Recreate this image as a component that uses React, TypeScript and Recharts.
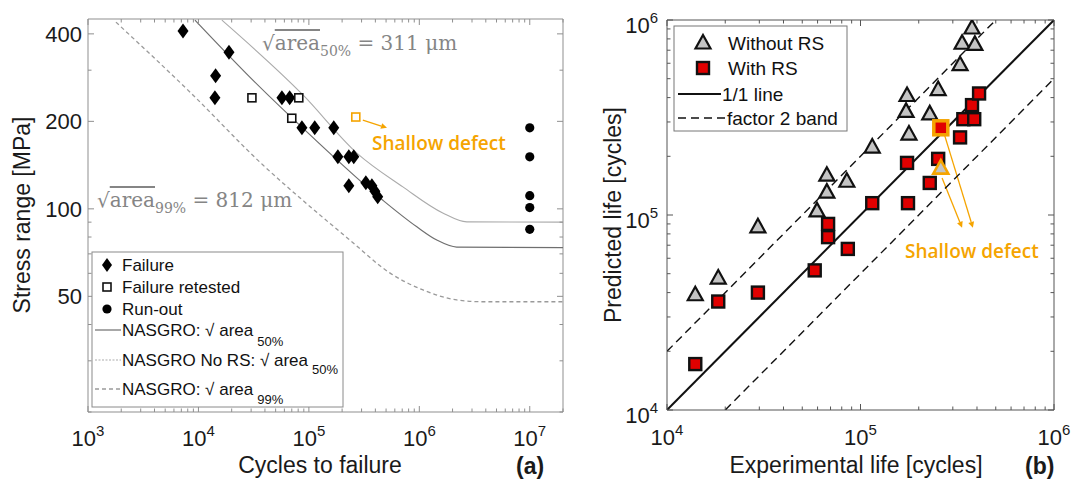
import React from "react";
import { ScatterChart, Scatter, XAxis, YAxis, ReferenceLine } from "recharts";

const ORANGE = "#f5a400";
const FRAME_A = "#8f8f8f";
const FRAME_B = "#555555";
const SANS = "'Liberation Sans', Arial, sans-serif";
const RED = "#e10000";
const GREY = "#c4c4c4";

// ---- panel (a): stress range vs cycles to failure
const failureCycles = [7250, 14100, 14300, 18900, 57000, 67000, 86500, 113000, 168000, 183000, 230000, 255000, 230000, 328000, 372000, 396000, 420000];
const failureStress = [409, 241, 287, 346, 241, 241, 190, 190, 190, 151, 151, 151, 120, 123, 120, 115, 110];
const retestCycles = [30500, 70000, 81000];
const retestStress = [241, 205, 241];
const shallowACycles = [266000];
const shallowAStress = [207];
const runoutCycles = [1e7, 1e7, 1e7, 1e7, 1e7];
const runoutStress = [190, 151, 111, 101, 85];

const nasgro50Cycles = [9300, 29200, 102000, 468000, 950000, 1440000, 2180000, 2e7];
const nasgro50Stress = [446, 284, 180, 107, 86.7, 78.1, 73.9, 73.5];
const noRsCycles = [16300, 88000, 272000, 710000, 1630000, 2690000, 2e7];
const noRsStress = [446, 247, 155.6, 119, 96.8, 90.2, 90];
const nasgro99Cycles = [1790, 8400, 38400, 88000, 235000, 540000, 1080000, 2180000, 3760000, 2e7];
const nasgro99Stress = [439, 252, 141.5, 107, 78.1, 60.2, 52.6, 48.6, 47.9, 47.9];

const xMajorA = [1e3, 1e4, 1e5, 1e6, 1e7];
const yMajorA = [50, 100, 200, 400];

// ---- panel (b): predicted vs experimental life
const withoutExp = [14000, 18400, 29500, 59600, 67000, 67000, 85000, 115000, 178000, 172000, 174000, 228000, 252000, 327000, 335000, 390000, 377000];
const withoutPred = [39000, 47500, 87000, 105000, 131000, 160000, 149000, 223000, 260000, 340000, 410000, 330000, 440000, 590000, 760000, 750000, 910000];
const withExp = [14000, 18400, 29500, 58000, 68000, 68000, 86000, 115000, 176000, 228000, 174000, 252000, 327000, 340000, 387000, 377000, 410000];
const withPred = [17200, 36000, 40000, 52000, 77000, 90000, 67000, 115000, 115000, 146000, 185000, 194000, 250000, 310000, 310000, 366000, 420000];
const shallowWithExp = [260000];
const shallowWithPred = [280000];
const shallowWithoutExp = [260000];
const shallowWithoutPred = [174000];

const oneToOneX = [1e4, 1e6];
const oneToOneY = [1e4, 1e6];
const upperBandX = [1e4, 5e5];
const upperBandY = [2e4, 1e6];
const lowerBandX = [2e4, 1e6];
const lowerBandY = [1e4, 5e5];

const xyMajorB = [1e4, 1e5, 1e6];

// annotation arrows (data coordinates)
const arrowA = [{ x: 3.08e5, y: 202 }, { x: 5.1e5, y: 190 }];
const arrowsB = [
  [{ x: 2.7e5, y: 2.63e5 }, { x: 3.81e5, y: 8.6e4 }],
  [{ x: 2.64e5, y: 1.55e5 }, { x: 3.35e5, y: 8.6e4 }],
];

const pts = (xs: number[], ys: number[]) => xs.map((x, i) => ({ x, y: ys[i] }));

function logTicks(lo: number, hi: number) {
  const out: number[] = [];
  for (let e = Math.floor(Math.log10(lo)); e <= Math.ceil(Math.log10(hi)); e++) {
    for (let m = 1; m < 10; m++) {
      const v = m * 10 ** e;
      if (v >= lo * 0.999 && v <= hi * 1.001) out.push(v);
    }
  }
  return out;
}

const xTicksA = logTicks(1e3, 2e7);
const yTicksA = logTicks(20, 400);
const ticksB = logTicks(1e4, 1e6);

type Side = "bottom" | "top" | "left" | "right";
type LabelKind = "none" | "pow" | "plain";

const makeTick = (side: Side, majors: number[], color: string, kind: LabelKind, off: number) => (p: any) => {
  const { x, y, payload } = p;
  const v = payload.value as number;
  const major = majors.some((m) => Math.abs(v / m - 1) < 1e-6);
  const len = major ? 6 : 3.5;
  const [dx, dy] =
    side === "bottom" ? [0, -len] : side === "top" ? [0, len] : side === "left" ? [len, 0] : [-len, 0];
  const exp = String(Math.round(Math.log10(v)));
  let label = null;
  if (major && kind !== "none") {
    if (side === "bottom") {
      label = (
        <text x={x} y={y + off} textAnchor="middle" fontSize={22} fontFamily={SANS} fill="#1a1a1a">
          10<tspan dy={-10} fontSize={15}>{exp}</tspan>
        </text>
      );
    } else if (kind === "plain") {
      label = (
        <text x={x - off} y={y + 8} textAnchor="end" fontSize={22} fontFamily={SANS} fill="#1a1a1a">
          {v}
        </text>
      );
    } else {
      label = (
        <text x={x - off} y={y + 13} textAnchor="end" fontSize={22} fontFamily={SANS} fill="#1a1a1a">
          10<tspan dy={-10} fontSize={15}>{exp}</tspan>
        </text>
      );
    }
  }
  return (
    <g>
      <line x1={x} y1={y} x2={x + dx} y2={y + dy} stroke={color} strokeWidth={1} />
      {label}
    </g>
  );
};

const Diamond = (p: any) => (
  <polygon
    points={`${p.cx},${p.cy - 7.5} ${p.cx + 5.5},${p.cy} ${p.cx},${p.cy + 7.5} ${p.cx - 5.5},${p.cy}`}
    fill="#000"
  />
);
const HollowSquare = (color: string) => (p: any) => (
  <rect x={p.cx - 4} y={p.cy - 4} width={8} height={8} fill="#fff" stroke={color} strokeWidth={1.6} />
);
const Dot = (p: any) => <circle cx={p.cx} cy={p.cy} r={4.6} fill="#000" />;
const Triangle = (stroke: string, sw: number) => (p: any) => (
  <polygon
    points={`${p.cx},${p.cy - 8} ${p.cx + 7.5},${p.cy + 5.5} ${p.cx - 7.5},${p.cy + 5.5}`}
    fill={GREY}
    stroke={stroke}
    strokeWidth={sw}
  />
);
const RedSquare = (stroke: string, size: number, sw: number) => (p: any) => (
  <rect x={p.cx - size / 2} y={p.cy - size / 2} width={size} height={size} fill={RED} stroke={stroke} strokeWidth={sw} />
);
const NoMark = () => <g />;

const Arrow = (p: any) => {
  const { x1, y1, x2, y2 } = p;
  const a = Math.atan2(y2 - y1, x2 - x1);
  const h = 6;
  const w = 3;
  const bx = x2 - h * Math.cos(a);
  const by = y2 - h * Math.sin(a);
  const px = -Math.sin(a) * w;
  const py = Math.cos(a) * w;
  return (
    <g>
      <line x1={x1} y1={y1} x2={bx} y2={by} stroke={ORANGE} strokeWidth={1.3} />
      <polygon points={`${x2},${y2} ${bx + px},${by + py} ${bx - px},${by - py}`} fill={ORANGE} />
    </g>
  );
};

function PanelA() {
  return (
    <ScatterChart width={600} height={481} margin={{ top: 18, right: 36, bottom: 68, left: 87 }}>
      <XAxis type="number" dataKey="x" scale="log" domain={[1e3, 2e7]} allowDataOverflow ticks={xTicksA} interval={0}
        height={1} tickSize={0} tickMargin={0} tickLine={false} axisLine={{ stroke: FRAME_A }}
        tick={makeTick("bottom", xMajorA, FRAME_A, "pow", 34)} />
      <XAxis xAxisId="top" orientation="top" type="number" dataKey="x" scale="log" domain={[1e3, 2e7]} allowDataOverflow
        ticks={xTicksA} interval={0} height={1} tickSize={0} tickMargin={0} tickLine={false} axisLine={{ stroke: FRAME_A }}
        tick={makeTick("top", xMajorA, FRAME_A, "none", 0)} />
      <YAxis type="number" dataKey="y" scale="log" domain={[20, 450]} allowDataOverflow ticks={yTicksA} interval={0}
        width={1} tickSize={0} tickMargin={0} tickLine={false} axisLine={{ stroke: FRAME_A }}
        tick={makeTick("left", yMajorA, FRAME_A, "plain", 6)} />
      <YAxis yAxisId="right" orientation="right" type="number" dataKey="y" scale="log" domain={[20, 450]} allowDataOverflow
        ticks={yTicksA} interval={0} width={1} tickSize={0} tickMargin={0} tickLine={false} axisLine={{ stroke: FRAME_A }}
        tick={makeTick("right", yMajorA, FRAME_A, "none", 0)} />

      <Scatter data={pts(nasgro99Cycles, nasgro99Stress)} shape={NoMark} isAnimationActive={false}
        line={{ stroke: "#9a9a9a", strokeWidth: 1.3, strokeDasharray: "4 3" }} lineJointType="monotoneX" />
      <Scatter data={pts(noRsCycles, noRsStress)} shape={NoMark} isAnimationActive={false}
        line={{ stroke: "#ababab", strokeWidth: 1.1 }} lineJointType="monotoneX" />
      <Scatter data={pts(nasgro50Cycles, nasgro50Stress)} shape={NoMark} isAnimationActive={false}
        line={{ stroke: "#6f6f6f", strokeWidth: 1.2 }} lineJointType="monotoneX" />

      <Scatter data={pts(failureCycles, failureStress)} shape={Diamond} isAnimationActive={false} />
      <Scatter data={pts(retestCycles, retestStress)} shape={HollowSquare("#111")} isAnimationActive={false} />
      <Scatter data={pts(shallowACycles, shallowAStress)} shape={HollowSquare(ORANGE)} isAnimationActive={false} />
      <Scatter data={pts(runoutCycles, runoutStress)} shape={Dot} isAnimationActive={false} />
      <ReferenceLine segment={arrowA} shape={Arrow} ifOverflow="visible" />
    </ScatterChart>
  );
}

function PanelB() {
  return (
    <ScatterChart width={475} height={481} margin={{ top: 19, right: 20, bottom: 70, left: 66 }}>
      <XAxis type="number" dataKey="x" scale="log" domain={[1e4, 1e6]} allowDataOverflow ticks={ticksB} interval={0}
        height={1} tickSize={0} tickMargin={0} tickLine={false} axisLine={{ stroke: FRAME_B }}
        tick={makeTick("bottom", xyMajorB, FRAME_B, "pow", 35)} />
      <XAxis xAxisId="top" orientation="top" type="number" dataKey="x" scale="log" domain={[1e4, 1e6]} allowDataOverflow
        ticks={ticksB} interval={0} height={1} tickSize={0} tickMargin={0} tickLine={false} axisLine={{ stroke: FRAME_B }}
        tick={makeTick("top", xyMajorB, FRAME_B, "none", 0)} />
      <YAxis type="number" dataKey="y" scale="log" domain={[1e4, 1e6]} allowDataOverflow ticks={ticksB} interval={0}
        width={1} tickSize={0} tickMargin={0} tickLine={false} axisLine={{ stroke: FRAME_B }}
        tick={makeTick("left", xyMajorB, FRAME_B, "pow", 9)} />
      <YAxis yAxisId="right" orientation="right" type="number" dataKey="y" scale="log" domain={[1e4, 1e6]} allowDataOverflow
        ticks={ticksB} interval={0} width={1} tickSize={0} tickMargin={0} tickLine={false} axisLine={{ stroke: FRAME_B }}
        tick={makeTick("right", xyMajorB, FRAME_B, "none", 0)} />

      <Scatter data={pts(upperBandX, upperBandY)} shape={NoMark} isAnimationActive={false}
        line={{ stroke: "#111", strokeWidth: 1.4, strokeDasharray: "8 5" }} />
      <Scatter data={pts(lowerBandX, lowerBandY)} shape={NoMark} isAnimationActive={false}
        line={{ stroke: "#111", strokeWidth: 1.4, strokeDasharray: "8 5" }} />
      <Scatter data={pts(oneToOneX, oneToOneY)} shape={NoMark} isAnimationActive={false}
        line={{ stroke: "#111", strokeWidth: 2 }} />

      <Scatter data={pts(withoutExp, withoutPred)} shape={Triangle("#111", 2.2)} isAnimationActive={false} />
      <Scatter data={pts(withExp, withPred)} shape={RedSquare("#111", 12, 2.4)} isAnimationActive={false} />
      <Scatter data={pts(shallowWithoutExp, shallowWithoutPred)} shape={Triangle(ORANGE, 2.6)} isAnimationActive={false} />
      <Scatter data={pts(shallowWithExp, shallowWithPred)} shape={RedSquare(ORANGE, 14, 3.5)} isAnimationActive={false} />
      {arrowsB.map((seg, i) => (
        <ReferenceLine key={i} segment={seg} shape={Arrow} ifOverflow="visible" />
      ))}
    </ScatterChart>
  );
}

function Overlay() {
  const serif = "'DejaVu Serif', serif";
  const lg = { fontFamily: SANS, fill: "#111" };
  return (
    <svg width={1075} height={481} style={{ position: "absolute", left: 0, top: 0, pointerEvents: "none" }}>
      {/* panel (a) annotations */}
      <text x={262} y={50} fontFamily={serif} fontSize={20} fill="#858585">
        √<tspan style={{ textDecoration: "overline" }}>area</tspan>
        <tspan fontSize={14} dy={6}>50%</tspan>
        <tspan dy={-6}> = 311 μm</tspan>
      </text>
      <text x={97} y={207} fontFamily={serif} fontSize={20} fill="#858585">
        √<tspan style={{ textDecoration: "overline" }}>area</tspan>
        <tspan fontSize={14} dy={6}>99%</tspan>
        <tspan dy={-6}> = 812 μm</tspan>
      </text>
      <text x={372} y={150} fontFamily="'Open Sans', sans-serif" fontWeight={600} fontSize={19} fill={ORANGE}>
        Shallow defect
      </text>
      <text x={905} y={258} fontFamily="'Open Sans', sans-serif" fontWeight={600} fontSize={19} fill={ORANGE}>
        Shallow defect
      </text>

      {/* axis titles */}
      <text x={0} y={0} transform="translate(30,215) rotate(-90)" textAnchor="middle" fontFamily={SANS} fontSize={23} fill="#1a1a1a">
        Stress range [MPa]
      </text>
      <text x={320} y={473} textAnchor="middle" fontFamily={SANS} fontSize={23} fill="#1a1a1a">
        Cycles to failure
      </text>
      <text x={516} y={474} fontFamily={SANS} fontWeight={700} fontSize={23} fill="#1a1a1a">(a)</text>
      <text x={0} y={0} transform="translate(621,215) rotate(-90)" textAnchor="middle" fontFamily={SANS} fontSize={23} fill="#1a1a1a">
        Predicted life [cycles]
      </text>
      <text x={856} y={473} textAnchor="middle" fontFamily={SANS} fontSize={23} fill="#1a1a1a">
        Experimental life [cycles]
      </text>
      <text x={1025} y={474} fontFamily={SANS} fontWeight={700} fontSize={23} fill="#1a1a1a">(b)</text>

      {/* legend (a) */}
      <rect x={92} y={252} width={251} height={155} fill="#fff" stroke="#8a8a8a" strokeWidth={1} />
      <polygon points="107,258 112,265 107,272 102,265" fill="#000" />
      <text x={122} y={271} fontSize={17} {...lg}>Failure</text>
      <rect x={103} y={283} width={8} height={8} fill="#fff" stroke="#111" strokeWidth={1.6} />
      <text x={122} y={293} fontSize={17} {...lg}>Failure retested</text>
      <circle cx={107} cy={309} r={4.6} fill="#000" />
      <text x={122} y={315} fontSize={17} {...lg}>Run-out</text>
      <line x1={95} y1={330} x2={121} y2={330} stroke="#6f6f6f" strokeWidth={1.2} />
      <text x={122} y={336} fontSize={17} {...lg}>
        NASGRO: √ area<tspan fontSize={13} dx={4} dy={10}>50%</tspan>
      </text>
      <line x1={95} y1={360} x2={121} y2={360} stroke="#ababab" strokeWidth={1.1} strokeDasharray="2 1.5" />
      <text x={122} y={366} fontSize={17} {...lg}>
        NASGRO No RS: √ area<tspan fontSize={13} dx={4} dy={8}>50%</tspan>
      </text>
      <line x1={95} y1={389} x2={121} y2={389} stroke="#9a9a9a" strokeWidth={1.3} strokeDasharray="4 3" />
      <text x={122} y={395} fontSize={17} {...lg}>
        NASGRO: √ area<tspan fontSize={13} dx={4} dy={9}>99%</tspan>
      </text>

      {/* legend (b) */}
      <rect x={674} y={26} width={173} height={105} fill="#fff" stroke="#777" strokeWidth={1} />
      <polygon points="703,35 710.5,48.5 695.5,48.5" fill={GREY} stroke="#111" strokeWidth={2.2} />
      <text x={728} y={50} fontSize={19} {...lg}>Without RS</text>
      <rect x={697} y={62} width={12} height={12} fill={RED} stroke="#111" strokeWidth={2.4} />
      <text x={728} y={75} fontSize={19} {...lg}>With RS</text>
      <line x1={678} y1={94} x2={721} y2={94} stroke="#111" strokeWidth={2} />
      <text x={722} y={101} fontSize={19} {...lg}>1/1 line</text>
      <line x1={678} y1={118} x2={726} y2={118} stroke="#111" strokeWidth={1.4} strokeDasharray="8 5" />
      <text x={727} y={125} fontSize={19} {...lg}>factor 2 band</text>
    </svg>
  );
}

export default function App() {
  return (
    <div style={{ position: "absolute", left: 0, top: 0, width: 1075, height: 481, background: "#fff", fontFamily: SANS }}>
      <div style={{ position: "absolute", left: 0, top: 0 }}>
        <PanelA />
      </div>
      <div style={{ position: "absolute", left: 600, top: 0 }}>
        <PanelB />
      </div>
      <Overlay />
    </div>
  );
}
